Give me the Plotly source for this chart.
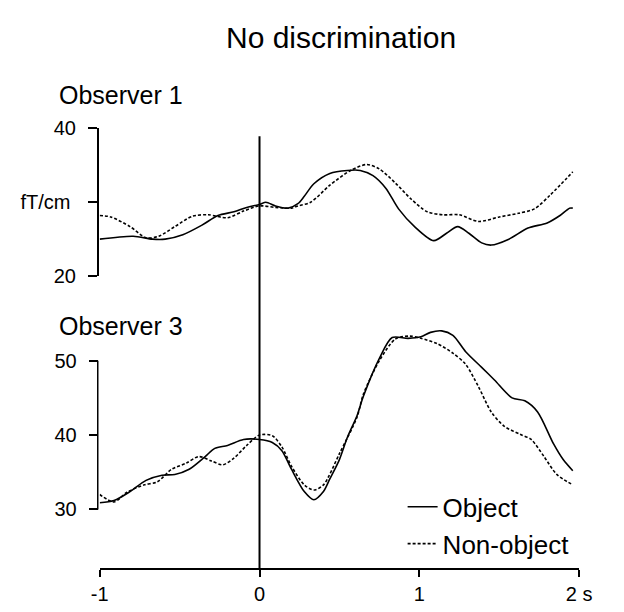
import plotly.graph_objects as go

# ---- data (time in s, amplitude in fT/cm) ----
obs1_obj_t = [-1.0, -0.79, -0.67, -0.59, -0.48, -0.36, -0.26, -0.16, -0.08, 0.0, 0.04, 0.10, 0.18, 0.24,
              0.28, 0.34, 0.44, 0.55, 0.63, 0.71, 0.79, 0.87, 0.97, 1.09, 1.17, 1.24, 1.31, 1.39, 1.45,
              1.56, 1.68, 1.80, 1.88, 1.94, 1.96]
obs1_obj_v = [25.0, 25.4, 25.0, 25.0, 25.6, 26.9, 28.2, 28.7, 29.3, 29.7, 30.0, 29.5, 29.2, 29.8,
              30.8, 32.5, 33.9, 34.3, 34.3, 33.6, 31.9, 29.1, 26.7, 24.8, 25.8, 26.7, 25.8, 24.5, 24.2,
              25.0, 26.5, 27.2, 28.2, 29.2, 29.2]

obs1_non_t = [-1.0, -0.93, -0.81, -0.71, -0.63, -0.53, -0.42, -0.32, -0.20, -0.10, 0.0, 0.10, 0.20, 0.24,
              0.32, 0.44, 0.57, 0.67, 0.75, 0.85, 0.95, 1.05, 1.15, 1.25, 1.37, 1.50, 1.62, 1.72, 1.82, 1.96]
obs1_non_v = [28.2, 28.0, 26.7, 25.2, 25.4, 26.7, 28.1, 28.3, 27.9, 28.8, 29.5, 29.3, 29.2, 29.5,
              30.0, 32.3, 34.3, 35.1, 34.5, 32.6, 30.4, 28.7, 28.3, 28.3, 27.4, 28.0, 28.5, 29.1, 31.0, 34.1]

obs3_obj_t = [-1.0, -0.91, -0.81, -0.71, -0.61, -0.53, -0.44, -0.34, -0.28, -0.20, -0.10, 0.0, 0.08, 0.14,
              0.20, 0.28, 0.34, 0.40, 0.44, 0.50, 0.55, 0.61, 0.65, 0.75, 0.83, 0.93, 1.01, 1.07, 1.14,
              1.21, 1.29, 1.39, 1.47, 1.58, 1.66, 1.74, 1.84, 1.90, 1.96]
obs3_obj_v = [30.9, 31.2, 32.4, 33.9, 34.6, 34.7, 35.4, 37.1, 38.2, 38.6, 39.4, 39.4, 39.0, 37.9,
              35.4, 32.4, 31.3, 32.4, 34.1, 36.7, 39.7, 42.6, 45.2, 50.3, 53.1, 53.0, 53.2, 53.8, 54.0,
              53.4, 51.2, 49.1, 47.4, 45.0, 44.6, 43.1, 38.8, 36.7, 35.2]

obs3_non_t = [-1.0, -0.91, -0.83, -0.72, -0.64, -0.55, -0.46, -0.38, -0.30, -0.23, -0.16, -0.08, 0.0, 0.08,
              0.14, 0.20, 0.28, 0.34, 0.40, 0.50, 0.61, 0.65, 0.75, 0.85, 0.94, 1.01, 1.11, 1.21, 1.29,
              1.37, 1.45, 1.53, 1.63, 1.70, 1.78, 1.86, 1.96]
obs3_non_v = [32.0, 31.0, 32.3, 33.3, 33.7, 35.4, 36.2, 37.1, 36.5, 36.0, 36.9, 38.6, 40.0, 39.9,
              38.4, 35.8, 33.3, 32.6, 33.3, 37.5, 42.4, 45.5, 50.0, 52.9, 53.3, 53.0, 52.3, 51.0, 49.5,
              46.5, 43.1, 41.2, 40.1, 39.4, 37.1, 34.7, 33.3]

x_tickvals = [-1, 0, 1, 2]
x_ticktext = ["-1", "0", "1", "2 s"]
y1_tickvals = [20, 30, 40]
y1_ticktext = ["20", "fT/cm\u00a0", "40"]
y3_tickvals = [30, 40, 50]
y3_ticktext = ["30", "40", "50"]

W, H = 624, 612
FONT = "Liberation Sans, Arial, Helvetica, sans-serif"


def px_x(p):
    return p / W


def px_y(p):
    return 1 - p / H


solid = dict(color="black", width=1.6)
dashed = dict(color="black", width=1.6, dash="3px,2px")

fig = go.Figure()
fig.add_trace(go.Scatter(x=obs1_obj_t, y=obs1_obj_v, mode="lines", line=dict(**solid, shape="spline", smoothing=0.8),
                         xaxis="x", yaxis="y", showlegend=False))
fig.add_trace(go.Scatter(x=obs1_non_t, y=obs1_non_v, mode="lines", line=dict(**dashed, shape="spline", smoothing=0.8),
                         xaxis="x", yaxis="y", showlegend=False))
fig.add_trace(go.Scatter(x=obs3_obj_t, y=obs3_obj_v, mode="lines", name="Object",
                         line=dict(**solid, shape="spline", smoothing=0.8), xaxis="x", yaxis="y2"))
fig.add_trace(go.Scatter(x=obs3_non_t, y=obs3_non_v, mode="lines", name="Non-object",
                         line=dict(**dashed, shape="spline", smoothing=0.8), xaxis="x", yaxis="y2"))

axis_common = dict(showgrid=False, zeroline=False, color="black", linecolor="black", tickcolor="black",
                   tickfont=dict(size=20, family=FONT, color="black"))

fig.update_layout(
    width=W, height=H,
    margin=dict(l=0, r=0, t=0, b=0),
    paper_bgcolor="white", plot_bgcolor="white",
    font=dict(family=FONT, color="black"),
    xaxis=dict(domain=[px_x(94), px_x(591)], range=[-1, 2], anchor="free", position=px_y(579),
               showline=True, linewidth=1.5, ticks="outside", ticklen=7, tickwidth=1.5,
               tickvals=x_tickvals, ticktext=x_ticktext, **axis_common),
    yaxis=dict(domain=[px_y(275), px_y(121.7)], range=[20, 40], anchor="free", position=px_x(92),
               showline=True, linewidth=1.5, ticks="outside", ticklen=9, tickwidth=1.5,
               tickvals=y1_tickvals, ticktext=y1_ticktext, ticklabelstandoff=8, **axis_common),
    yaxis2=dict(domain=[px_y(524.7), px_y(324.1)], range=[29, 55], anchor="free", position=px_x(92),
                showline=False, ticks="outside", ticklen=9, tickwidth=1.5,
                tickvals=y3_tickvals, ticktext=y3_ticktext, ticklabelstandoff=8, **axis_common),
    legend=dict(x=px_x(408), y=px_y(490), xanchor="left", yanchor="top",
                font=dict(size=26, family=FONT, color="black"), bgcolor="rgba(0,0,0,0)",
                borderwidth=0, tracegroupgap=0),
    showlegend=True,
)

# vertical stimulus-onset line at t = 0 spanning both panels
fig.add_shape(type="line", xref="x", yref="paper", x0=0, x1=0, y0=px_y(579), y1=px_y(130),
              line=dict(color="black", width=2))
# Observer 3 axis line (only from 30 to 50)
fig.add_shape(type="line", xref="paper", yref="y2", x0=px_x(92), x1=px_x(92), y0=30, y1=50,
              line=dict(color="black", width=1.5))

fig.add_annotation(text="No discrimination", xref="paper", yref="paper", x=px_x(344), y=px_y(27),
                   xanchor="center", yanchor="middle", showarrow=False,
                   font=dict(size=30, family=FONT, color="black"))
fig.add_annotation(text="Observer 1", xref="paper", yref="paper", x=px_x(50), y=px_y(87),
                   xanchor="left", yanchor="middle", showarrow=False,
                   font=dict(size=25, family=FONT, color="black"))
fig.add_annotation(text="Observer 3", xref="paper", yref="paper", x=px_x(50), y=px_y(327),
                   xanchor="left", yanchor="middle", showarrow=False,
                   font=dict(size=25, family=FONT, color="black"))

fig.write_html("out.html")
